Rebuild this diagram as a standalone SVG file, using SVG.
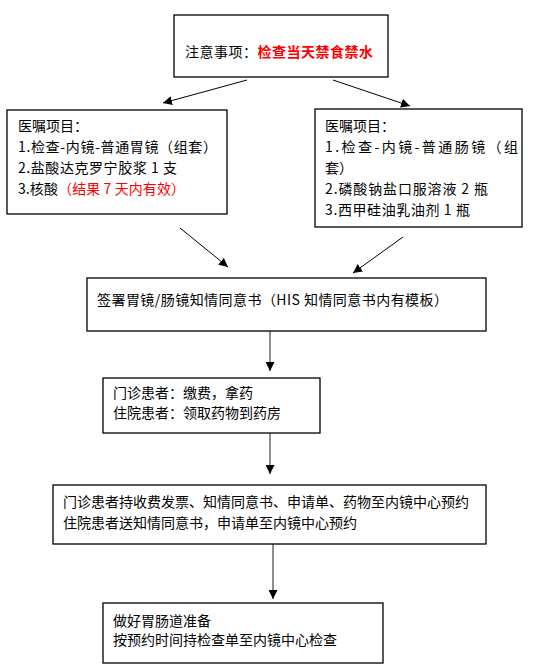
<svg xmlns="http://www.w3.org/2000/svg" width="533" height="670" viewBox="0 0 533 670">
<style>
.box{fill:#fff;stroke:#000;stroke-width:1.3}
.t{font-family:"Noto Sans CJK SC","Liberation Sans",sans-serif;font-size:14px;fill:#000}
.r{fill:#ff0000}
.b{font-weight:bold}
.c{stroke:#000;stroke-width:1;fill:none;marker-end:url(#ah)}
.v{stroke:#444;stroke-width:1.2;fill:none;marker-end:url(#ah)}
</style>
<defs>
<marker id="ah" viewBox="0 0 10 10" refX="10" refY="5" markerWidth="9" markerHeight="9" markerUnits="userSpaceOnUse" orient="auto">
<path d="M0,0 L10,5 L0,10 z" fill="#000"/>
</marker>
</defs>
<rect width="533" height="670" fill="#fff"/>
<g id="connectors">
<line class="c" x1="247" y1="80" x2="163" y2="103"/>
<line class="c" x1="333" y1="80" x2="410" y2="106"/>
<line class="c" x1="180" y1="228" x2="228" y2="267"/>
<line class="c" x1="403" y1="237" x2="353" y2="273"/>
<line class="v" x1="270" y1="331" x2="270" y2="371"/>
<line class="v" x1="270" y1="433" x2="270" y2="474"/>
<line class="v" x1="273" y1="544" x2="273" y2="599"/>
</g>
<g id="n1">
<rect class="box" x="174" y="15" width="214" height="62"/>
<text class="t" x="185" y="57" textLength="188" lengthAdjust="spacing">注意事项：<tspan class="r b">检查当天禁食禁水</tspan></text>
</g>
<g id="n2">
<rect class="box" x="7" y="110" width="220" height="104"/>
<text class="t" x="18" y="131">医嘱项目：</text>
<text class="t" x="18" y="152" textLength="199" lengthAdjust="spacing">1.检查-内镜-普通胃镜（组套）</text>
<text class="t" x="18" y="173" textLength="159" lengthAdjust="spacing">2.盐酸达克罗宁胶浆 1 支</text>
<text class="t" x="18" y="194" textLength="167" lengthAdjust="spacing">3.核酸<tspan class="r">（结果 7 天内有效）</tspan></text>
</g>
<g id="n3">
<rect class="box" x="315" y="109" width="207" height="118"/>
<text class="t" x="325" y="131">医嘱项目：</text>
<text class="t" x="325" y="152" textLength="193" lengthAdjust="spacing">1.检查-内镜-普通肠镜（组</text>
<text class="t" x="325" y="173">套）</text>
<text class="t" x="325" y="194" textLength="163" lengthAdjust="spacing">2.磷酸钠盐口服溶液 2 瓶</text>
<text class="t" x="325" y="215" textLength="145" lengthAdjust="spacing">3.西甲硅油乳油剂 1 瓶</text>
</g>
<g id="n4">
<rect class="box" x="87" y="278" width="399" height="53"/>
<text class="t" x="97" y="305" textLength="351" lengthAdjust="spacing">签署胃镜/肠镜知情同意书（HIS 知情同意书内有模板）</text>
</g>
<g id="n5">
<rect class="box" x="103" y="378" width="217" height="55"/>
<text class="t" x="113" y="398">门诊患者：缴费，拿药</text>
<text class="t" x="113" y="418">住院患者：领取药物到药房</text>
</g>
<g id="n6">
<rect class="box" x="53" y="485" width="433" height="59"/>
<text class="t" x="63" y="507">门诊患者持收费发票、知情同意书、申请单、药物至内镜中心预约</text>
<text class="t" x="63" y="528">住院患者送知情同意书，申请单至内镜中心预约</text>
</g>
<g id="n7">
<rect class="box" x="103" y="603" width="280" height="60"/>
<text class="t" x="113" y="626">做好胃肠道准备</text>
<text class="t" x="113" y="645">按预约时间持检查单至内镜中心检查</text>
</g>
</svg>
